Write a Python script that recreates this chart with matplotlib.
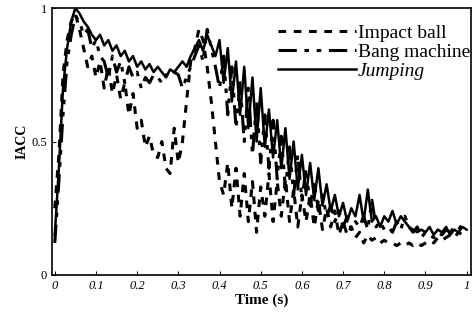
import matplotlib.pyplot as plt
import numpy as np

# time axis (s), step 0.01
t = np.round(np.arange(0, 1.001, 0.01), 2)

# IACC values
impact_ball = [0.25, 0.45, 0.75, 0.88, 0.95, 0.98, 0.92, 0.85, 0.78, 0.82,
               0.74, 0.80, 0.70, 0.78, 0.68, 0.75, 0.66, 0.72, 0.60, 0.68,
               0.55, 0.58, 0.48, 0.52, 0.45, 0.44, 0.50, 0.40, 0.38, 0.55,
               0.42, 0.50, 0.65, 0.80, 0.85, 0.92, 0.88, 0.78, 0.65, 0.50,
               0.35, 0.30, 0.42, 0.25, 0.40, 0.22, 0.38, 0.20, 0.35, 0.16,
               0.33, 0.22, 0.38, 0.20, 0.35, 0.22, 0.36, 0.20, 0.32, 0.18,
               0.30, 0.20, 0.30, 0.18, 0.28, 0.17, 0.25, 0.18, 0.24, 0.15,
               0.20, 0.15, 0.18, 0.14, 0.16, 0.12, 0.15, 0.13, 0.14, 0.12,
               0.13, 0.12, 0.12, 0.11, 0.12, 0.11, 0.12, 0.11, 0.12, 0.11,
               0.12, 0.13, 0.12, 0.14, 0.13, 0.14, 0.15, 0.14, 0.16, 0.15,
               0.17]

bang_machine = [0.12, 0.35, 0.60, 0.80, 0.90, 0.97, 0.95, 0.90, 0.92, 0.85,
                0.88, 0.82, 0.80, 0.74, 0.82, 0.76, 0.80, 0.72, 0.78, 0.74,
                0.76, 0.70, 0.74, 0.72, 0.75, 0.74, 0.72, 0.75, 0.74, 0.76,
                0.75, 0.70, 0.74, 0.78, 0.82, 0.86, 0.80, 0.92, 0.85, 0.78,
                0.70, 0.82, 0.60, 0.78, 0.55, 0.72, 0.50, 0.70, 0.45, 0.65,
                0.42, 0.60, 0.40, 0.58, 0.36, 0.52, 0.32, 0.48, 0.30, 0.45,
                0.28, 0.40, 0.26, 0.35, 0.24, 0.30, 0.22, 0.26, 0.20, 0.24,
                0.18, 0.22, 0.17, 0.20, 0.18, 0.22, 0.17, 0.28, 0.18, 0.20,
                0.17, 0.18, 0.16, 0.20, 0.17, 0.22, 0.18, 0.16, 0.18, 0.14,
                0.16, 0.15, 0.14, 0.16, 0.15, 0.17, 0.16, 0.18, 0.17, 0.19,
                0.20]

jumping = [0.15, 0.40, 0.70, 0.85, 0.95, 1.00, 0.98, 0.95, 0.93, 0.90,
           0.88, 0.90, 0.86, 0.88, 0.84, 0.86, 0.82, 0.84, 0.80, 0.82,
           0.78, 0.80, 0.77, 0.79, 0.76, 0.78, 0.76, 0.74, 0.77, 0.76,
           0.78, 0.80, 0.78, 0.82, 0.85, 0.88, 0.84, 0.90, 0.86, 0.82,
           0.88, 0.72, 0.85, 0.65, 0.80, 0.60, 0.78, 0.55, 0.74, 0.50,
           0.70, 0.48, 0.62, 0.44, 0.58, 0.40, 0.55, 0.36, 0.50, 0.32,
           0.45, 0.30, 0.42, 0.28, 0.40, 0.26, 0.34, 0.24, 0.30, 0.22,
           0.27, 0.20, 0.25, 0.22, 0.30, 0.20, 0.32, 0.20, 0.22, 0.18,
           0.22, 0.20, 0.24, 0.19, 0.22, 0.20, 0.18, 0.17, 0.16, 0.17,
           0.16, 0.18, 0.15, 0.17, 0.16, 0.18, 0.15, 0.17, 0.16, 0.18,
           0.17]

x_ticks = [0, 0.1, 0.2, 0.3, 0.4, 0.5, 0.6, 0.7, 0.8, 0.9, 1]
x_labels = ["0", "0.1", "0.2", "0.3", "0.4", "0.5", "0.6", "0.7", "0.8", "0.9", "1"]
y_ticks = [0, 0.5, 1]
y_labels = ["0", "0.5", "1"]

plt.rcParams['font.family'] = ['Liberation Serif', 'DejaVu Serif']

fig = plt.figure(figsize=(4.76, 3.22), dpi=100)
ax = fig.add_axes([0.109, 0.146, 0.88, 0.829])

ax.plot(t, impact_ball, color="k", lw=2.2, ls=(0, (2.5, 2.5)), label="Impact ball")
ax.plot(t, bang_machine, color="k", lw=2.2, ls=(0, (6, 2.5, 1.5, 2.5, 1.5, 2.5)),
        label="Bang machine")
ax.plot(t, jumping, color="k", lw=1.8, ls="-", label="Jumping")

ax.set_xlim(-0.007, 1.01)
ax.set_ylim(0, 1)
ax.set_xticks(x_ticks)
ax.set_xticklabels(x_labels, fontstyle="italic", fontsize=9)
ax.set_yticks(y_ticks)
ax.set_yticklabels(y_labels, fontsize=9)
ax.tick_params(direction="in", length=3, width=0.8)
for s in ax.spines.values():
    s.set_linewidth(1.2)

ax.set_xlabel("Time (s)", fontweight="bold", fontsize=11, labelpad=1)
ax.set_ylabel("IACC", fontweight="bold", fontsize=10, labelpad=2)

leg = ax.legend(loc="upper right", bbox_to_anchor=(1.007, 0.955), frameon=False,
                fontsize=14, handlelength=4.0, handletextpad=0.1,
                labelspacing=0.08, borderaxespad=0.0, borderpad=0.2)
leg.get_texts()[2].set_fontstyle("italic")

fig.savefig("out.png", dpi=100)
